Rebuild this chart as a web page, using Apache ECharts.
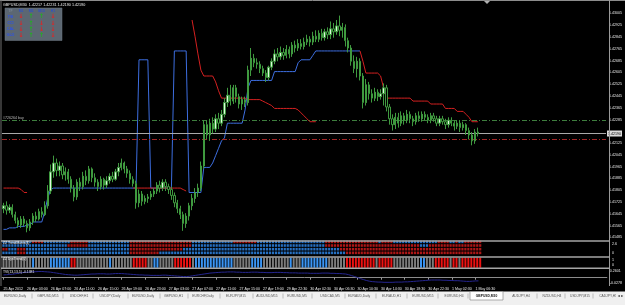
<!DOCTYPE html>
<html><head><meta charset="utf-8">
<script src="https://cdn.jsdelivr.net/npm/echarts@6/dist/echarts.min.js"></script>
<style>html,body{margin:0;padding:0;background:#000;overflow:hidden}#c{width:625px;height:305px}</style>
</head><body><div id="c"></div>
<script>
const headerText = 'GBPUSD,M30  1.42217 1.42231 1.42190 1.42190';
const timeLabels = ['25 Apr 2012','26 Apr 03:00','26 Apr 07:00','26 Apr 11:00','26 Apr 15:00','26 Apr 19:00','26 Apr 23:00','27 Apr 03:00','27 Apr 07:00','27 Apr 11:00','27 Apr 15:00','27 Apr 19:00','29 Apr 22:30','30 Apr 02:30','30 Apr 06:30','30 Apr 10:30','30 Apr 14:30','30 Apr 18:30','30 Apr 22:30','1 May 02:30','1 May 06:30'];
const priceTicks = [1.43005,1.42925,1.42845,1.42765,1.42685,1.42605,1.42525,1.42445,1.42365,1.42285,1.42125,1.42045,1.41965,1.41885,1.41805,1.41725,1.41645,1.41565,1.41485];
const dotTicks = [0, 2.6];
const dynTicks = [0, 1];
const tviTickLabels = ['-0.0278','0.00','0.2601'];
const buyLevel = 1.42277, bidLevel = 1.42190, sellLevel = 1.42150;
const buyLabel = '#726264 buy';
const tviLabel = 'TVI(13,13,5) -0.1381';
const dotsLabel = 'ZZ TrendMatrix(4)';
const dynLabel = 'ZZ DynTrend(0)';

// [open, close, low, high]
const candles = [
[1.4168,1.4170,1.4165,1.4172],[1.4170,1.4167,1.4164,1.4173],[1.4167,1.4169,1.4165,1.4171],[1.4169,1.4164,1.4162,1.4171],
[1.4164,1.4160,1.4158,1.4166],[1.4160,1.4157,1.4155,1.4162],[1.4157,1.4161,1.4155,1.4163],[1.4161,1.4158,1.4156,1.4163],
[1.4158,1.4155,1.4152,1.4160],[1.4155,1.4159,1.4153,1.4161],[1.4159,1.4163,1.4157,1.4165],[1.4163,1.4161,1.4159,1.4166],
[1.4161,1.4166,1.4160,1.4168],[1.4166,1.4164,1.4162,1.4169],[1.4164,1.4170,1.4163,1.4173],[1.4170,1.4180,1.4168,1.4184],
[1.4180,1.4193,1.4178,1.4198],[1.4193,1.4199,1.4189,1.4204],[1.4199,1.4194,1.4190,1.4202],[1.4194,1.4197,1.4190,1.4200],
[1.4197,1.4191,1.4188,1.4199],[1.4191,1.4193,1.4187,1.4196],[1.4193,1.4188,1.4185,1.4195],[1.4188,1.4182,1.4179,1.4190],
[1.4182,1.4176,1.4173,1.4184],[1.4176,1.4186,1.4174,1.4188],[1.4186,1.4183,1.4180,1.4189],[1.4183,1.4190,1.4181,1.4193],
[1.4190,1.4187,1.4184,1.4194],[1.4187,1.4195,1.4185,1.4197],[1.4195,1.4189,1.4186,1.4196],[1.4189,1.4186,1.4183,1.4192],
[1.4186,1.4183,1.4180,1.4188],[1.4183,1.4188,1.4181,1.4190],[1.4188,1.4184,1.4181,1.4189],[1.4184,1.4187,1.4182,1.4190],
[1.4187,1.4190,1.4185,1.4192],[1.4190,1.4188,1.4186,1.4193],[1.4188,1.4193,1.4187,1.4195],[1.4193,1.4196,1.4190,1.4199],
[1.4196,1.4199,1.4194,1.4202],[1.4199,1.4195,1.4192,1.4200],[1.4195,1.4192,1.4189,1.4197],[1.4192,1.4188,1.4185,1.4194],
[1.4188,1.4185,1.4183,1.4190],[1.4185,1.4172,1.4168,1.4187],[1.4172,1.4178,1.4169,1.4181],[1.4178,1.4173,1.4170,1.4180],
[1.4173,1.4175,1.4171,1.4177],[1.4175,1.4176,1.4172,1.4178],[1.4176,1.4178,1.4174,1.4180],[1.4178,1.4180,1.4176,1.4182],
[1.4180,1.4184,1.4178,1.4186],[1.4184,1.4182,1.4179,1.4187],[1.4182,1.4186,1.4180,1.4188],[1.4186,1.4183,1.4180,1.4188],
[1.4183,1.4181,1.4178,1.4185],[1.4181,1.4177,1.4174,1.4183],[1.4177,1.4172,1.4169,1.4179],[1.4172,1.4168,1.4165,1.4174],
[1.4168,1.4164,1.4161,1.4170],[1.4164,1.4158,1.4153,1.4166],[1.4158,1.4163,1.4155,1.4165],[1.4163,1.4170,1.4160,1.4172],
[1.4170,1.4175,1.4167,1.4178],[1.4175,1.4179,1.4172,1.4182],[1.4179,1.4182,1.4176,1.4185],[1.4182,1.4197,1.4180,1.4200],
[1.4197,1.4225,1.4195,1.4228],[1.4225,1.4218,1.4215,1.4228],[1.4218,1.4226,1.4214,1.4229],[1.4226,1.4222,1.4219,1.4230],
[1.4222,1.4229,1.4220,1.4232],[1.4229,1.4226,1.4222,1.4233],[1.4226,1.4232,1.4224,1.4235],[1.4232,1.4240,1.4230,1.4243],
[1.4240,1.4245,1.4237,1.4250],[1.4245,1.4241,1.4238,1.4252],[1.4241,1.4250,1.4239,1.4252],[1.4250,1.4244,1.4240,1.4252],
[1.4244,1.4239,1.4236,1.4246],[1.4239,1.4242,1.4235,1.4244],[1.4242,1.4240,1.4237,1.4244],[1.4240,1.4262,1.4238,1.4265],
[1.4262,1.4270,1.4258,1.4277],[1.4270,1.4267,1.4264,1.4273],[1.4267,1.4266,1.4263,1.4270],[1.4266,1.4263,1.4260,1.4268],
[1.4263,1.4260,1.4258,1.4265],[1.4260,1.4257,1.4254,1.4262],[1.4257,1.4264,1.4255,1.4265],[1.4264,1.4268,1.4262,1.4270],
[1.4268,1.4273,1.4266,1.4276],[1.4273,1.4271,1.4268,1.4277],[1.4271,1.4274,1.4269,1.4278],[1.4274,1.4272,1.4269,1.4277],
[1.4272,1.4276,1.4270,1.4279],[1.4276,1.4273,1.4270,1.4278],[1.4273,1.4279,1.4271,1.4281],[1.4279,1.4277,1.4274,1.4282],
[1.4277,1.4280,1.4275,1.4283],[1.4280,1.4278,1.4276,1.4283],[1.4278,1.4281,1.4276,1.4284],[1.4281,1.4283,1.4279,1.4286],
[1.4283,1.4281,1.4278,1.4285],[1.4281,1.4285,1.4279,1.4288],[1.4285,1.4283,1.4281,1.4289],[1.4283,1.4287,1.4281,1.4289],
[1.4287,1.4284,1.4282,1.4290],[1.4284,1.4288,1.4282,1.4290],[1.4288,1.4286,1.4283,1.4291],[1.4286,1.4290,1.4283,1.4295],
[1.4290,1.4288,1.4284,1.4294],[1.4288,1.4292,1.4286,1.4296],[1.4292,1.4289,1.4285,1.4299],[1.4289,1.4291,1.4284,1.4294],
[1.4291,1.4282,1.4278,1.4293],[1.4282,1.4277,1.4274,1.4284],[1.4277,1.4268,1.4265,1.4279],[1.4268,1.4263,1.4260,1.4272],
[1.4263,1.4268,1.4257,1.4271],[1.4268,1.4258,1.4255,1.4270],[1.4258,1.4240,1.4236,1.4260],[1.4240,1.4252,1.4238,1.4256],
[1.4252,1.4246,1.4242,1.4254],[1.4246,1.4243,1.4240,1.4249],[1.4243,1.4247,1.4241,1.4250],[1.4247,1.4244,1.4241,1.4249],
[1.4244,1.4246,1.4242,1.4249],[1.4246,1.4250,1.4238,1.4253],[1.4250,1.4237,1.4234,1.4252],[1.4237,1.4229,1.4225,1.4239],
[1.4229,1.4225,1.4221,1.4232],[1.4225,1.4230,1.4222,1.4233],[1.4230,1.4226,1.4223,1.4233],[1.4226,1.4231,1.4224,1.4234],
[1.4231,1.4228,1.4225,1.4233],[1.4228,1.4232,1.4226,1.4235],[1.4232,1.4229,1.4226,1.4234],[1.4229,1.4227,1.4224,1.4231],
[1.4227,1.4231,1.4225,1.4233],[1.4231,1.4229,1.4227,1.4234],[1.4229,1.4232,1.4227,1.4234],[1.4232,1.4230,1.4228,1.4234],
[1.4230,1.4228,1.4226,1.4232],[1.4228,1.4231,1.4226,1.4233],[1.4231,1.4229,1.4227,1.4233],[1.4229,1.4226,1.4224,1.4231],
[1.4226,1.4229,1.4224,1.4231],[1.4229,1.4227,1.4225,1.4231],[1.4227,1.4225,1.4222,1.4229],[1.4225,1.4228,1.4223,1.4230],
[1.4228,1.4226,1.4224,1.4230],[1.4226,1.4224,1.4221,1.4228],[1.4224,1.4226,1.4222,1.4228],[1.4226,1.4223,1.4220,1.4228],
[1.4223,1.4225,1.4221,1.4227],[1.4225,1.4221,1.4218,1.4226],[1.4221,1.4218,1.4215,1.4223],[1.4218,1.4214,1.4211,1.4220],
[1.4214,1.4220,1.4212,1.4222],[1.4220,1.4219,1.4217,1.4223]
];

const blueLine = [
1.4154,1.4154,1.4155,1.4155,1.4155,1.4156,1.4156,1.4156,1.4157,1.4157,
1.4159,1.4159,1.4159,1.4159,1.4166,1.4175,1.4181,1.4182,1.4182,1.4182,
1.4182,1.4182,1.4182,1.4182,1.4182,1.4182,1.4182,1.4182,1.4182,1.4182,
1.4182,1.4182,1.4182,1.4182,1.4182,1.4182,1.4182,1.4182,1.4182,1.4182,
1.4182,1.4182,1.4182,1.4182,1.4182,1.4182,1.4269,1.4269,1.4269,1.4269,
1.4182,1.4182,1.4182,1.4182,1.4182,1.4182,1.4182,1.4182,1.4275,1.4275,
1.4275,1.4275,1.4275,1.4179,1.4179,1.4179,1.4179,1.4179,1.4196,1.4196,
1.4196,1.4199,1.4204,1.4209,1.4214,1.4216,1.4226,1.4226,1.4226,1.4226,
1.4226,1.4226,1.4235,1.4250,1.4255,1.4255,1.4255,1.4255,1.4255,1.4255,
1.4255,1.4255,1.4261,1.4261,1.4261,1.4261,1.4261,1.4261,1.4261,1.4261,
1.4267,1.4269,1.4269,1.4269,1.4269,1.4272,1.4275,1.4275,1.4275,1.4275,
1.4275,1.4275,1.4275,1.4275,1.4275,1.4275,1.4275,1.4275,1.4275,1.4275,
1.4275,1.4275,null,null,null,null,null,null,null,null,
null,null,null,null,null,null,null,null,null,null,
null,null,null,null,null,null,null,null,null,null,
null,null,null,null,null,null,null,null,null,null,
null,null
];

const redLine = [
1.4182,1.4182,1.4182,1.4182,1.4182,1.4182,1.4181,1.4179,1.4179,null,
null,null,null,null,null,null,null,null,null,null,
null,null,null,null,null,null,null,null,null,null,
null,null,null,null,null,null,null,null,null,null,
null,null,null,null,1.4182,1.4182,1.4182,1.4182,1.4182,1.4182,
1.4182,1.4182,1.4182,1.4182,1.4182,1.4182,1.4182,1.4182,1.4182,1.4182,
1.4182,1.4181,1.4180,null,1.4296,1.4285,1.4273,1.4262,1.4258,1.4258,
1.4258,1.4258,1.4254,1.4248,1.4243,1.4243,1.4243,1.4243,1.4243,1.4243,
1.4243,1.4243,1.4243,1.4242,1.4242,1.4242,1.4242,1.4242,1.4241,1.4240,
1.4239,1.4238,1.4236,1.4236,1.4236,1.4236,1.4236,1.4236,1.4236,1.4236,
1.4235,1.4233,1.4231,1.4229,1.4227,1.4227,1.4227,null,null,null,
null,null,null,null,null,null,null,null,null,null,
null,1.4275,1.4268,1.4260,1.4260,1.4260,1.4260,1.4260,1.4258,1.4250,
1.4243,1.4243,1.4243,1.4243,1.4243,1.4243,1.4243,1.4243,1.4243,1.4241,
1.4241,1.4241,1.4241,1.4241,1.4241,1.4239,1.4239,1.4239,1.4239,1.4239,
1.4236,1.4236,1.4236,1.4236,1.4234,1.4234,1.4234,1.4232,1.4230,1.4227,
1.4227,1.4227
];

const tviValues = [
0.12,0.13,0.14,0.15,0.17,0.19,0.21,0.23,
0.24,0.25,0.26,0.26,0.27,0.27,0.26,0.25,0.24,
0.22,0.20,0.18,0.16,0.14,0.13,0.12,0.11,0.11,
0.12,0.13,0.14,0.15,0.16,0.16,0.17,0.17,0.17,0.16,0.16,0.17,0.18,0.18,0.18,0.17,0.16,0.15,0.14,0.13,0.12,0.12,0.11,0.11,0.10,
0.10,0.10,0.10,0.11,0.11,0.10,0.09,0.08,0.07,0.06,0.05,0.05,0.06,0.08,0.10,
0.12,0.14,0.16,0.18,0.20,0.21,0.22,0.23,0.24,0.24,0.25,0.25,0.25,0.24,0.24,
0.23,0.23,0.23,0.24,0.24,0.24,0.23,0.23,0.22,0.22,0.22,0.23,0.23,0.23,0.22,0.22,0.21,0.21,0.21,0.20,
0.20,0.20,0.20,0.19,0.19,0.19,0.19,0.20,0.20,0.20,0.19,0.19,0.18,0.18,0.17,0.16,
0.13,0.09,0.05,0.01,-0.04,-0.08,-0.12,-0.15,-0.17,
-0.18,-0.19,-0.19,-0.20,-0.20,-0.20,-0.20,-0.19,-0.19,-0.19,-0.18,-0.18,-0.17,-0.16,-0.15,
-0.14,-0.13,-0.12,-0.11,-0.10,-0.10,-0.10,-0.10,-0.11,-0.11,
-0.12,-0.12,-0.13,-0.13,-0.14,-0.15,-0.16,-0.16,-0.15,-0.14,-0.1381
];

// b = blue, r = red (one character per bar)
const dotRow1 = 'bbbbbbbbbb rrrrbbbbbb bbbrrrrrrb bbbbbbbbbb bbbrrrrrrr rrrrrrrrrr rrrrbbbbbb bbbbbbbbrr rrrrrrbbbb bbbbbbbbbb bbbbbbbbbr rrrrrrrrrr rrrrrrrbrr rrbbbbbbbb bbbbbbbrrr rbbrbbrrrr rr';
const dotRow2 = 'bbbbbbbbbb bbbbbbbbbb bbrrrrrrrb bbbbbbbbbb bbbrrrrrrr rrrrrrrrrr rrrrbbbbbb bbbbbbbbbb bbbbbbbbbb bbbbbbbbbb bbbbbbbbbr rrrrrrrrrr rrrrrrrrrr rrrrrrrrrr rbbbrrrrrr rrrrrrrrrr rr';
const dotRow3 = 'rrbbbrrrbb bbbbbbbbbb bbbbbbbbbb bbbbbbbbbb bbbrrrrrrr rrrrrrrrrr rbbbbbbbbb bbbbbbbbbb bbbbbbbbbb bbbbbbbbbb bbbbbbbbbb bbbbrrrrrr rrrrrrrrrr rrrrrrrrrr rrrrrrrrrr rrrrrrrrrr rr';
const dotRow4 = 'bbbbbrrrbb bbbbbbbbbb bbbbbbbbbb bbbbbbbbbb bbbrrrrrrr rrrbbbbbbb bbbbbbbbbb bbbbbbbbbb bbbbbbbbbb bbbbbbbbbb bbbbbbbbbb bbbbbbrrrr rrrrrrrrrr rrrrrrrrrr rrrrrrrrrr rrrrrrrrrr rr';
// b = blue, g = gray, r = red
const dynTrend = 'gggggggggg bgggggbbbb bbbrrggggg ggggggbggg ggggrrrrrg gbbgggggrr rrrrgbbbbb bbbbbbbbgg ggggbbbbgg gggggggbgg gbbbbbbbbb ggggggrrrr rrrrrrgrrr rrgggggggg gbbgggrrrr rgrrgrrrrr rr';

const tableCols = ['M1','M5','M15','H1'];
const tableRows = ['TSI','CCI','CAL','GLO'];
const tableArrows = [['d','u','u','d'],['d','u','d','d'],['d','u','d','d'],['d','u','u','d']];

const tabs = ['EURUSD,Daily','GBPUSD,M15','USDCHF,H1','USDJPY,Daily','EURUSD,Daily','GBPUSD,H1','EURCHF,Daily','EURJPY,M15','AUDUSD,M15','EURUSD,M5','USDCAD,M5','EURAUD,Daily','EURAUD,H1','EURUSD,M15','EURUSD,H4','GBPUSD,M30','AUDJPY,H4','NZDUSD,H4','USDJPY,M15','CADJPY,H1'];
const activeTab = 'GBPUSD,M30';

// ---- build ----
const FONT = 'Liberation Sans';
const N = 205;
const cats = Array.from({length: N}, (_, i) => i);
const dotColors = {b: '#2f8cf2', r: '#d81c1c'};
const dynColors = {b: '#3a95f5', g: '#7b7b7b', r: '#ee1111'};
const rows = [dotRow1, dotRow2, dotRow3, dotRow4].map(s => s.replace(/ /g, '').split(''));
const dotData = [];
rows.forEach((r, ri) => r.forEach((c, i) => dotData.push({value: [i, ri], itemStyle: {color: dotColors[c]}})));
const dynData = dynTrend.replace(/ /g, '').split('').map(c => ({value: 1, itemStyle: {color: dynColors[c]}}));

const isTimeTick = (i) => i % 8 === 0 && i / 8 < timeLabels.length;
const tinyLabel = {color: '#e8e8e8', fontSize: 3.6, fontFamily: FONT};

const xAxes = [0, 1, 2, 3].map(g => ({
  type: 'category', gridIndex: g, data: cats, boundaryGap: true, show: g === 3,
  axisLine: {show: g === 3, lineStyle: {color: '#8c8c8c', width: 1}},
  axisTick: {show: g === 3, interval: (i) => isTimeTick(i), alignWithLabel: true, length: 2, lineStyle: {color: '#9a9a9a'}},
  axisLabel: {show: g === 3, interval: (i) => isTimeTick(i), formatter: (v, i) => timeLabels[i / 8] || '', align: 'left', margin: 1.5, ...tinyLabel},
  splitLine: {show: false}
}));

const rightAxis = (g, min, max, vals, fmt) => ({
  type: 'value', gridIndex: g, position: 'right', min, max,
  axisLine: {show: false}, axisTick: {show: false}, splitLine: {show: false},
  axisLabel: {customValues: vals, formatter: fmt, margin: 3, ...tinyLabel}
});

const option = {
  animation: false,
  backgroundColor: '#000',
  textStyle: {fontFamily: FONT},
  grid: [
    {left: 2, width: 607, top: 2, height: 239},
    {left: 2, width: 607, top: 240, height: 14.7},
    {left: 2, width: 607, top: 257.5, height: 10.3},
    {left: 2, width: 607, top: 268.5, height: 17}
  ],
  xAxis: xAxes,
  yAxis: [
    rightAxis(0, 1.41461, 1.43082, priceTicks, v => v.toFixed(5)),
    {type: 'category', gridIndex: 1, data: [0, 1, 2, 3], inverse: true, show: false},
    rightAxis(1, -0.39, 3.72, dotTicks, v => String(v)),
    {type: 'value', gridIndex: 2, min: 0, max: 1, show: false},
    rightAxis(2, -0.56, 1.5, dynTicks, v => String(v)),
    {type: 'value', gridIndex: 3, min: -0.338, max: 0.399, show: false},
    {type: 'category', gridIndex: 3, position: 'right', data: tviTickLabels, axisLine: {show: false}, axisTick: {show: false}, splitLine: {show: false}, axisLabel: {margin: 3, ...tinyLabel}}
  ],
  series: [
    {
      type: 'line', name: 'blue', xAxisIndex: 0, yAxisIndex: 0, data: blueLine, symbol: 'none',
      lineStyle: {color: '#3d6ee0', width: 1}, connectNulls: false, z: 3,
      markLine: {
        silent: true, symbol: ['none', 'none'], animation: false, precision: 5,
        data: [
          {yAxis: buyLevel, lineStyle: {color: '#3e7e3e', width: 1, type: [5, 2, 1, 2]},
           label: {show: true, position: 'insideStartTop', formatter: buyLabel, distance: 1, color: '#bcbcbc', fontSize: 3.6, fontFamily: FONT}},
          {yAxis: bidLevel, lineStyle: {color: '#a9a9a9', width: 1, type: 'solid'},
           label: {show: true, position: 'end', formatter: bidLevel.toFixed(5), distance: 1, color: '#000', backgroundColor: '#dcdcdc', padding: [1, 1], fontSize: 3.6, fontFamily: FONT}},
          {yAxis: sellLevel, lineStyle: {color: '#a02626', width: 1, type: [5, 2, 1, 2]}, label: {show: false}}
        ]
      }
    },
    {
      type: 'line', name: 'red', xAxisIndex: 0, yAxisIndex: 0, data: redLine, symbol: 'none',
      lineStyle: {color: '#d42020', width: 1}, connectNulls: false, z: 4
    },
    {
      type: 'candlestick', xAxisIndex: 0, yAxisIndex: 0, data: candles, barWidth: 1.8, z: 5,
      itemStyle: {color: '#dff5df', color0: '#000000', borderColor: '#3f9a3f', borderColor0: '#3f9a3f', borderWidth: 1}
    },
    {
      type: 'scatter', xAxisIndex: 1, yAxisIndex: 1, data: dotData, symbol: 'rect', symbolSize: [2.2, 2.6], clip: false
    },
    {
      type: 'bar', xAxisIndex: 2, yAxisIndex: 3, data: dynData, barWidth: 2
    },
    {
      type: 'line', xAxisIndex: 3, yAxisIndex: 5, data: tviValues, symbol: 'none',
      lineStyle: {color: '#25258f', width: 1}
    }
  ],
  graphic: buildGraphic()
};

function buildGraphic() {
  const g = [];
  const line = (x1, y1, x2, y2, color, w) => g.push({type: 'line', silent: true, z: 100, shape: {x1, y1, x2, y2}, style: {stroke: color || '#8c8c8c', lineWidth: w || 1}});
  // frame
  line(0, 0.5, 625, 0.5, '#8c8c8c', 1);
  line(1, 0, 1, 286, '#6e6e6e', 1);
  line(609.5, 0, 609.5, 286, '#9a9a9a', 1);
  line(1, 241, 609.5, 241, '#a6a6a6', 1.4);
  line(1, 257, 609.5, 257, '#a6a6a6', 1.4);
  line(1, 268.3, 609.5, 268.3, '#a6a6a6', 1.4);
  // chart shift marker
  g.push({type: 'polygon', z: 100, shape: {points: [[484, 1], [490, 1], [487, 4]]}, style: {fill: '#b0b0b0'}});
  // header
  g.push({type: 'text', z: 100, x: 3, y: 5, style: {text: headerText, fill: '#f0f0f0', font: '3.7px ' + FONT, textVerticalAlign: 'middle'}});
  // pane labels
  g.push({type: 'text', z: 100, x: 3, y: 242.6, style: {text: dotsLabel, fill: '#f4f4f4', font: '3.3px ' + FONT, textVerticalAlign: 'middle'}});
  g.push({type: 'text', z: 100, x: 3, y: 259.2, style: {text: dynLabel, fill: '#f4f4f4', font: '3.3px ' + FONT, textVerticalAlign: 'middle'}});
  g.push({type: 'text', z: 100, x: 3, y: 271.6, style: {text: tviLabel, fill: '#e8e8e8', font: '3.4px ' + FONT, textVerticalAlign: 'middle'}});
  // table
  g.push({type: 'rect', z: 100, shape: {x: 5, y: 8, width: 57, height: 32.5}, style: {fill: '#5c6772', stroke: '#6f7a85', lineWidth: 0.5}});
  const colX = [21, 31, 41.5, 53];
  const rowY = [16.8, 23, 29.2, 35.3];
  g.push({type: 'text', z: 101, x: 10.5, y: 11, style: {text: 'TF', fill: '#7a8694', font: 'bold 3.4px ' + FONT, textAlign: 'center', textVerticalAlign: 'middle'}});
  tableCols.forEach((c, i) => g.push({type: 'text', z: 101, x: colX[i], y: 11, style: {text: c, fill: '#2e4fc8', font: 'bold 3.4px ' + FONT, textAlign: 'center', textVerticalAlign: 'middle'}}));
  tableRows.forEach((r, j) => {
    g.push({type: 'text', z: 101, x: 10.5, y: rowY[j], style: {text: r, fill: '#2d52e6', font: 'bold 3.6px ' + FONT, textAlign: 'center', textVerticalAlign: 'middle'}});
    tableArrows[j].forEach((a, i) => g.push({type: 'text', z: 101, x: colX[i], y: rowY[j], style: {text: a === 'u' ? '↑' : '↓', fill: a === 'u' ? '#22b022' : '#e02424', font: 'bold 6px DejaVu Sans', textAlign: 'center', textVerticalAlign: 'middle'}}));
  });
  // tab bar
  g.push({type: 'rect', z: 100, shape: {x: 0, y: 291.5, width: 625, height: 13.5}, style: {fill: '#f0f0f0'}});
  const tabX = [15, 48, 79, 110, 143, 173.5, 203, 236, 267, 297, 330, 359, 391.5, 423, 454, 486.5, 521, 552, 580, 608];
  const sepX = [32, 63, 93, 128, 160, 188, 220, 253, 283, 312, 345, 376, 407, 438, 468, 537, 565, 593];
  const ai = tabs.indexOf(activeTab);
  g.push({type: 'rect', z: 100, shape: {x: 470, y: 291.5, width: 33, height: 8.5}, style: {fill: '#ffffff', stroke: '#7a7a7a', lineWidth: 0.6}});
  sepX.forEach(x => line(x, 293.5, x, 298.5, '#9a9a9a', 0.6));
  tabs.forEach((t, i) => g.push({type: 'text', z: 101, x: tabX[i], y: 296, style: {text: t, fill: i === ai ? '#111' : '#555', font: (i === ai ? 'bold ' : '') + '3.3px ' + FONT, textAlign: 'center', textVerticalAlign: 'middle'}}));
  g.push({type: 'rect', z: 102, shape: {x: 616, y: 292, width: 9, height: 8}, style: {fill: '#f0f0f0'}});
  g.push({type: 'text', z: 103, x: 620.5, y: 296, style: {text: '◂ ▸', fill: '#222', font: '4px DejaVu Sans', textAlign: 'center', textVerticalAlign: 'middle'}});
  return g;
}

const chart = echarts.init(document.getElementById('c'), null, {renderer: 'canvas'});
chart.setOption(option);
</script>
</body></html>
